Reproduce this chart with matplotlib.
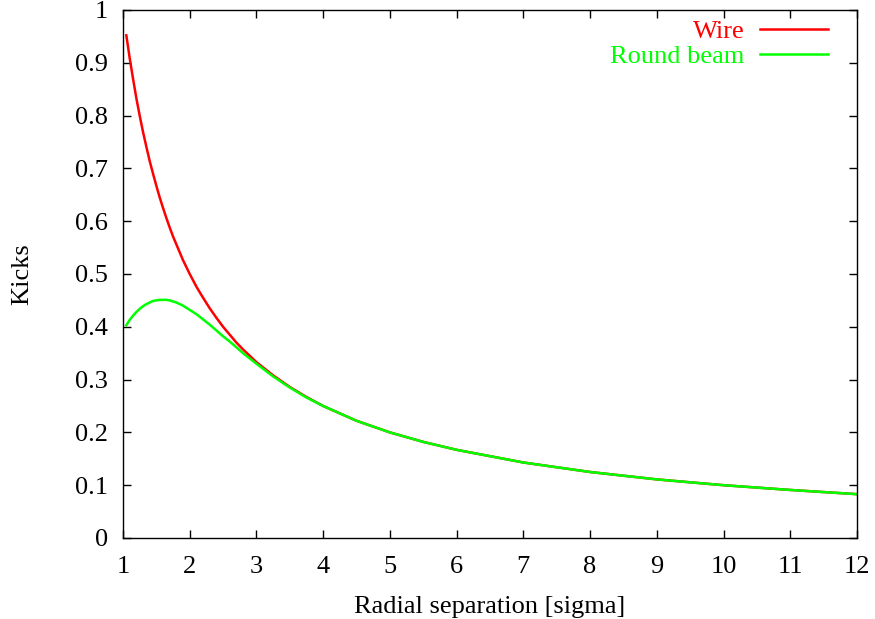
import matplotlib.pyplot as plt
from matplotlib.lines import Line2D

# values
separation = [1.05, 1.1, 1.15, 1.2, 1.25, 1.3, 1.35, 1.4, 1.45, 1.5, 1.55, 1.6, 1.65, 1.7,
              1.75, 1.8, 1.85, 1.9, 1.95, 2.0, 2.1, 2.2, 2.3, 2.4, 2.5, 2.6, 2.7, 2.8, 2.9,
              3.0, 3.25, 3.5, 3.75, 4.0, 4.5, 5.0, 5.5, 6.0, 7.0, 8.0, 9.0, 10.0, 11.0, 12.0]
wire_kick = [0.952, 0.909, 0.870, 0.833, 0.800, 0.769, 0.741, 0.714, 0.690, 0.667, 0.645,
             0.625, 0.606, 0.588, 0.571, 0.556, 0.541, 0.526, 0.513, 0.500, 0.476, 0.455,
             0.435, 0.417, 0.400, 0.385, 0.370, 0.357, 0.345, 0.333, 0.308, 0.286, 0.267,
             0.250, 0.222, 0.200, 0.182, 0.167, 0.143, 0.125, 0.111, 0.100, 0.091, 0.083]
round_kick = [0.403, 0.413, 0.421, 0.428, 0.434, 0.439, 0.443, 0.446, 0.449, 0.450, 0.451,
              0.451, 0.451, 0.450, 0.448, 0.446, 0.443, 0.440, 0.436, 0.432, 0.424, 0.414,
              0.404, 0.393, 0.382, 0.372, 0.361, 0.350, 0.340, 0.330, 0.306, 0.285, 0.266,
              0.250, 0.222, 0.200, 0.182, 0.167, 0.143, 0.125, 0.111, 0.100, 0.091, 0.083]

x_ticks = list(range(1, 13))
y_ticks = [0, 0.1, 0.2, 0.3, 0.4, 0.5, 0.6, 0.7, 0.8, 0.9, 1]
y_tick_labels = ['0', '0.1', '0.2', '0.3', '0.4', '0.5', '0.6', '0.7', '0.8', '0.9', '1']

WIRE_COLOR = '#ff0000'
ROUND_COLOR = '#00ff00'

plt.rcParams['font.family'] = ['Liberation Serif', 'DejaVu Serif']
plt.rcParams['font.size'] = 19

fig = plt.figure(figsize=(8.75, 6.19), dpi=100)
ax = fig.add_axes([123 / 875, 1 - 538 / 619, (857 - 123) / 875, (538 - 10) / 619])

ax.plot(separation, wire_kick, color=WIRE_COLOR, linewidth=1.8)
ax.plot(separation, round_kick, color=ROUND_COLOR, linewidth=1.8)

ax.set_xlim(1, 12)
ax.set_ylim(0, 1)
ax.set_xticks(x_ticks)
ax.set_yticks(y_ticks)
ax.set_yticklabels(y_tick_labels)
ax.tick_params(direction='in', length=6, width=1, top=True, right=True, color='black')
ax.tick_params(axis='x', pad=13)
ax.tick_params(axis='y', pad=11)
for s in ax.spines.values():
    s.set_linewidth(1)

ax.set_xlabel('Radial separation [sigma]', labelpad=13)
ax.set_ylabel('Kicks', labelpad=30)

# gnuplot style key: right aligned label followed by a line sample
key = [('Wire', WIRE_COLOR, 0.947, 0.964), ('Round beam', ROUND_COLOR, 0.900, 0.917)]
for label, color, text_y, line_y in key:
    ax.text(0.847, text_y, label, color=color, ha='right', va='baseline',
            transform=ax.transAxes)
    ax.add_line(Line2D([0.868, 0.961], [line_y, line_y], color=color, linewidth=1.8,
                       transform=ax.transAxes))

fig.savefig('out.png', dpi=100)
